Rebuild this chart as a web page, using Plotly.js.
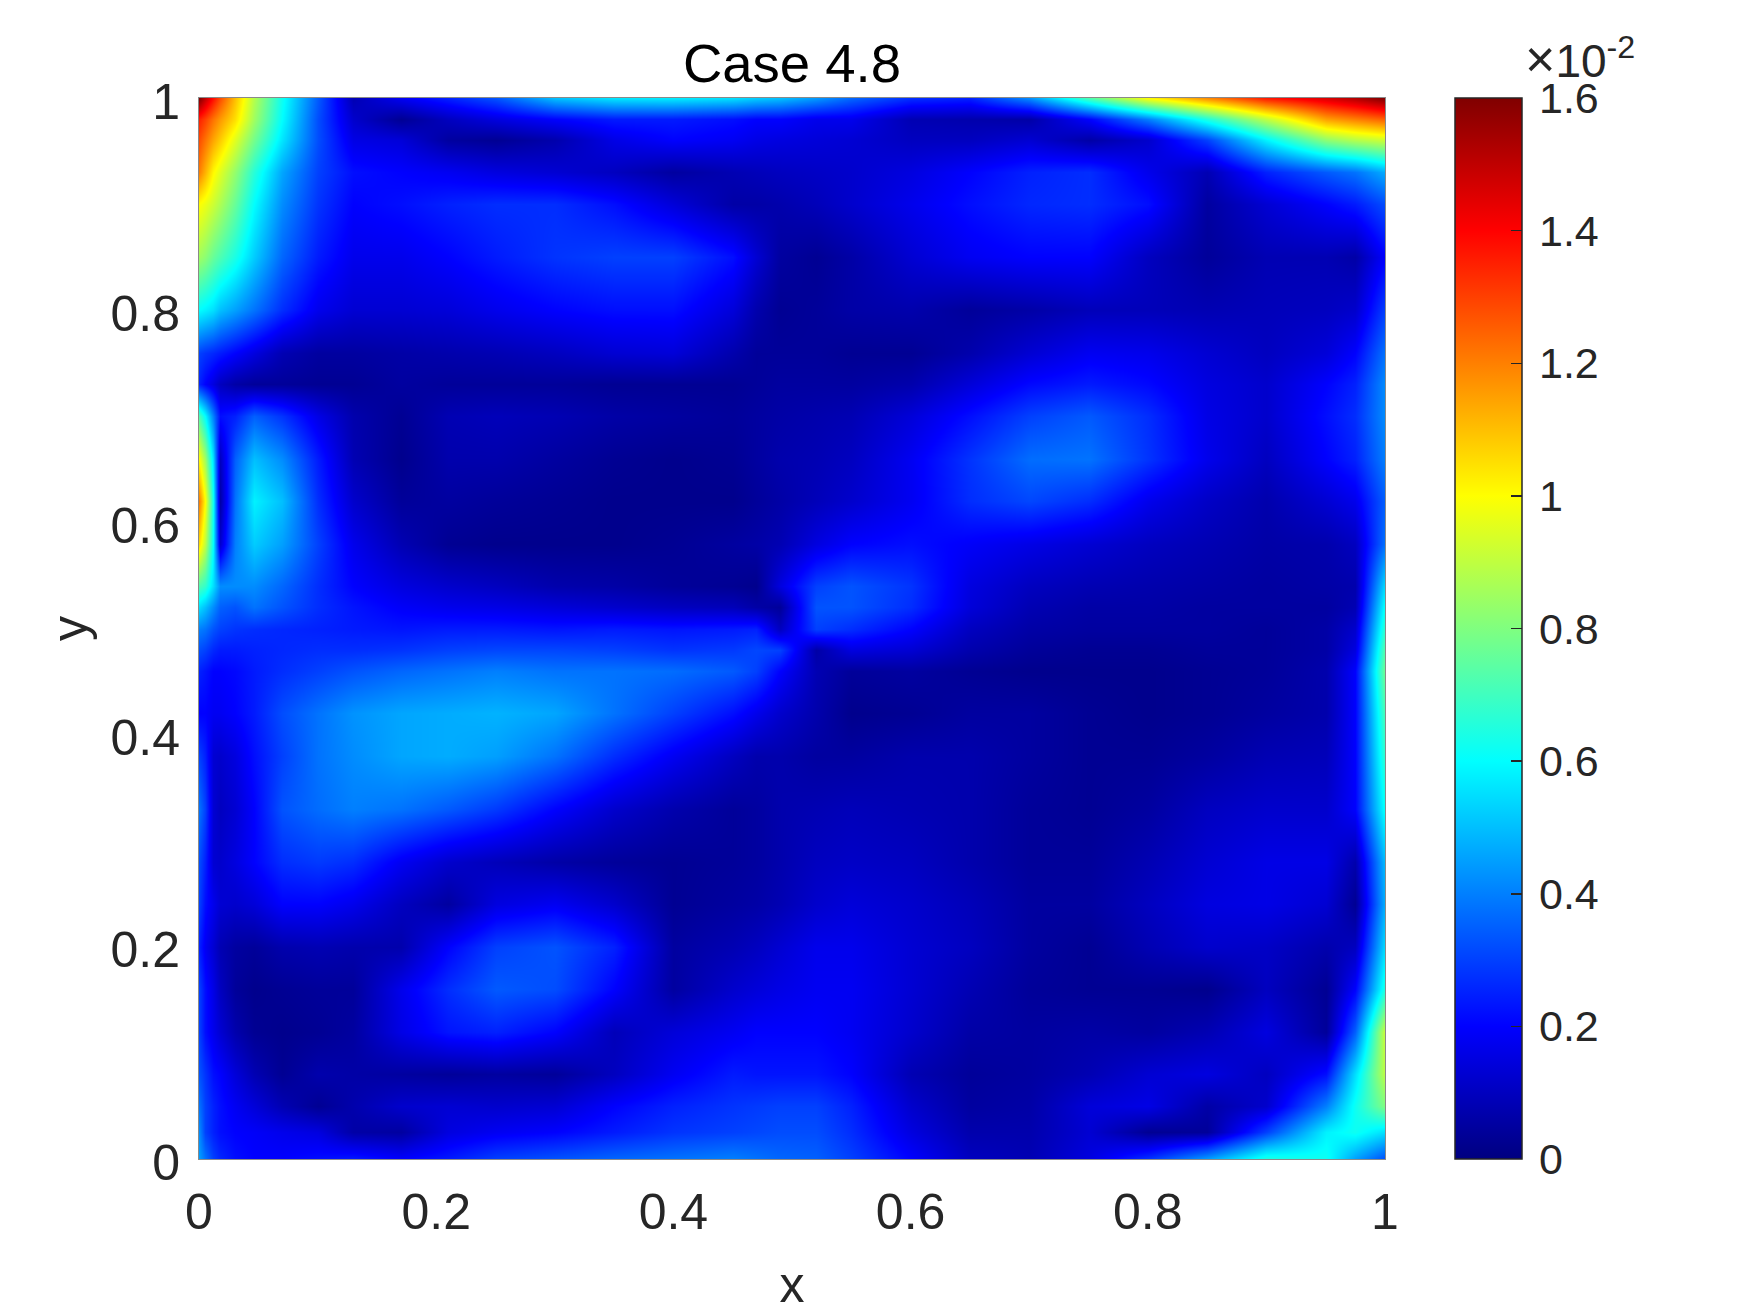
<!DOCTYPE html>
<html><head><meta charset="utf-8">
<script src="https://cdn.plot.ly/plotly-3.0.1.min.js"></script>
<style>html,body{margin:0;padding:0;background:#fff}#c{width:1750px;height:1313px}</style>
</head><body><div id="c"></div>
<script>
const xNodes=[0,.005,.012,.018,.03,.046,.07,.1,.13,.17,.21,.25,.3,.35,.4,.45,.47,.49,.52,.55,.6,.65,.7,.75,.8,.85,.9,.95,.975,1];
const yNodes=[1,.98,.96,.93,.9,.85,.8,.76,.73,.7,.66,.62,.58,.54,.52,.5,.48,.46,.42,.38,.33,.28,.24,.2,.16,.12,.08,.05,.025,0];
// values in units of 1e-2, top row first
const zRows=[
[1.6,1.5,1.38,1.28,1.1,.88,.62,.34,.08,.18,.25,.33,.5,.56,.57,.55,.52,.5,.44,.36,.27,.25,.42,.72,1.0,1.18,1.36,1.46,1.52,1.6],
[1.35,1.3,1.22,1.16,1.05,.85,.6,.32,.12,.03,.1,.15,.2,.24,.24,.22,.2,.2,.17,.17,.08,.07,.06,.2,.4,.65,.9,1.15,1.2,1.25],
[1.28,1.22,1.14,1.08,.95,.78,.56,.32,.16,.14,.05,.03,.07,.16,.2,.18,.16,.15,.14,.13,.1,.1,.13,.06,.12,.3,.58,.82,.88,.92],
[1.2,1.12,1.01,.95,.83,.66,.46,.3,.22,.2,.18,.15,.13,.1,.05,.08,.09,.1,.11,.12,.15,.2,.25,.27,.17,.08,.25,.34,.38,.47],
[1.0,.97,.92,.87,.76,.6,.42,.28,.2,.22,.25,.27,.27,.22,.14,.06,.06,.07,.09,.12,.17,.22,.26,.27,.22,.05,.13,.2,.24,.32],
[.85,.82,.76,.72,.64,.52,.36,.24,.17,.17,.2,.24,.28,.3,.3,.22,.13,.05,.03,.06,.13,.18,.2,.2,.1,.04,.08,.08,.06,.2],
[.6,.58,.55,.5,.45,.38,.27,.17,.13,.13,.14,.17,.2,.22,.22,.14,.07,.03,.04,.06,.07,.04,.06,.09,.09,.08,.09,.1,.12,.3],
[.3,.28,.26,.24,.2,.15,.08,.05,.05,.06,.07,.08,.1,.13,.14,.07,.04,.04,.04,.03,.03,.07,.13,.18,.17,.13,.1,.14,.2,.38],
[.25,.2,.15,.1,.06,.04,.04,.03,.03,.05,.04,.04,.04,.03,.03,.03,.04,.05,.05,.05,.07,.14,.21,.24,.21,.15,.12,.2,.25,.42],
[.72,.6,.4,.22,.25,.35,.28,.16,.07,.03,.08,.09,.08,.06,.05,.04,.05,.06,.07,.08,.14,.22,.3,.34,.27,.16,.12,.22,.27,.42],
[1.0,.85,.55,.1,.35,.5,.42,.24,.08,.02,.07,.07,.05,.03,.02,.03,.05,.07,.08,.1,.18,.28,.37,.38,.28,.17,.1,.2,.25,.4],
[1.2,1.0,.62,.06,.38,.58,.5,.27,.12,.04,.05,.04,.03,.02,.02,.02,.04,.06,.09,.12,.18,.27,.31,.27,.17,.11,.07,.13,.17,.35],
[1.05,.9,.6,.12,.4,.52,.45,.3,.17,.08,.03,.02,.02,.02,.03,.05,.06,.08,.15,.2,.22,.19,.16,.13,.1,.08,.06,.07,.1,.38],
[.72,.68,.55,.42,.42,.42,.36,.27,.2,.15,.12,.1,.07,.06,.04,.03,.02,.15,.3,.33,.28,.15,.1,.08,.07,.06,.05,.06,.07,.55],
[.55,.5,.42,.35,.33,.38,.33,.27,.23,.19,.17,.16,.14,.12,.1,.09,.06,.04,.33,.33,.27,.14,.08,.06,.06,.05,.05,.05,.08,.62],
[.4,.38,.33,.3,.28,.27,.26,.25,.24,.23,.24,.24,.23,.24,.23,.24,.25,.1,.3,.27,.2,.1,.06,.05,.05,.05,.04,.06,.12,.68],
[.32,.3,.26,.24,.24,.25,.26,.27,.27,.28,.3,.31,.31,.3,.28,.29,.31,.3,.06,.15,.13,.07,.04,.03,.03,.04,.04,.06,.15,.74],
[.25,.23,.2,.2,.21,.24,.27,.3,.33,.36,.38,.4,.38,.38,.37,.34,.3,.2,.08,.04,.05,.03,.02,.02,.02,.03,.04,.07,.2,.78],
[.2,.2,.18,.18,.2,.24,.32,.38,.43,.46,.47,.48,.46,.38,.3,.22,.17,.12,.07,.02,.03,.05,.05,.03,.02,.03,.05,.07,.2,.72],
[.3,.25,.13,.12,.15,.22,.3,.38,.42,.46,.47,.45,.38,.27,.18,.1,.07,.07,.05,.05,.07,.07,.05,.03,.03,.05,.08,.09,.2,.68],
[.38,.3,.13,.1,.13,.2,.33,.37,.4,.38,.34,.29,.2,.12,.07,.04,.05,.07,.08,.09,.08,.07,.04,.03,.05,.1,.12,.12,.2,.62],
[.32,.25,.13,.12,.15,.2,.27,.29,.27,.18,.12,.09,.06,.04,.03,.04,.05,.07,.1,.11,.1,.07,.04,.04,.08,.13,.16,.16,.07,.5],
[.3,.22,.17,.13,.12,.14,.2,.2,.17,.1,.05,.15,.18,.12,.03,.05,.06,.08,.12,.14,.12,.09,.05,.05,.1,.15,.16,.13,.03,.48],
[.25,.18,.13,.08,.05,.04,.07,.08,.07,.07,.2,.3,.33,.25,.05,.08,.1,.13,.17,.17,.13,.1,.05,.03,.08,.12,.11,.07,.1,.55],
[.3,.22,.16,.1,.04,.02,.03,.04,.04,.17,.27,.34,.32,.2,.05,.12,.14,.16,.18,.18,.13,.08,.04,.03,.03,.02,.1,.03,.2,.65],
[.3,.22,.17,.13,.07,.03,.02,.03,.05,.16,.23,.25,.2,.09,.14,.18,.2,.2,.2,.18,.12,.06,.05,.06,.05,.08,.15,.04,.35,.92],
[.33,.28,.22,.2,.14,.08,.03,.07,.06,.05,.04,.05,.04,.1,.18,.24,.23,.23,.23,.2,.08,.04,.05,.08,.13,.15,.1,.22,.55,.9],
[.38,.3,.25,.22,.18,.14,.08,.03,.07,.12,.13,.12,.13,.2,.25,.28,.29,.3,.3,.25,.12,.05,.06,.14,.16,.06,.12,.4,.62,.8],
[.42,.3,.25,.22,.2,.19,.17,.15,.06,.05,.15,.18,.2,.24,.28,.3,.31,.32,.32,.27,.15,.07,.07,.13,.03,.04,.3,.58,.62,.55],
[.45,.38,.3,.26,.22,.2,.2,.22,.24,.2,.24,.3,.33,.36,.38,.4,.38,.36,.35,.3,.2,.1,.08,.15,.28,.45,.65,.62,.45,.32]
];
const axisTicks=[0,.2,.4,.6,.8,1];
const axisLabels=['0','0.2','0.4','0.6','0.8','1'];
const barTicks=[0,.2,.4,.6,.8,1,1.2,1.4,1.6];
const barLabels=['0','0.2','0.4','0.6','0.8','1','1.2','1.4','1.6'];
const jet=[[0,'rgb(0,0,128)'],[.125,'rgb(0,0,255)'],[.375,'rgb(0,255,255)'],[.625,'rgb(255,255,0)'],[.875,'rgb(255,0,0)'],[1,'rgb(128,0,0)']];
const F='"Liberation Sans",Arial,sans-serif', INK='#262626';
const axisBase={range:[0,1],tickmode:'array',tickvals:axisTicks,ticktext:axisLabels,ticks:'',showgrid:false,zeroline:false,
  showline:true,mirror:true,linecolor:'#8a8a8a',linewidth:1,tickfont:{family:F,size:50,color:INK},automargin:false};
Plotly.newPlot('c',[{type:'heatmap',x:xNodes,y:yNodes.slice().reverse(),z:zRows.slice().reverse(),zmin:0,zmax:1.6,zsmooth:'best',
  colorscale:jet,hoverinfo:'skip',
  colorbar:{thickness:67,thicknessmode:'pixels',len:1,lenmode:'fraction',x:1.0587,xanchor:'left',xpad:0,ypad:0,y:0,yanchor:'bottom',
    outlinecolor:INK,outlinewidth:1.5,tickmode:'array',tickvals:barTicks,ticktext:barLabels.map(s=>'\u2006'+s),ticks:'inside',ticklen:11,tickwidth:1.5,tickcolor:INK,
    tickfont:{family:F,size:43,color:INK}}}],
 {width:1750,height:1313,paper_bgcolor:'#fff',plot_bgcolor:'#fff',showlegend:false,
  margin:{l:199,r:364.5,t:97.5,b:154,pad:0},
  title:{text:'Case 4.8',font:{family:F,size:54.5,color:'#000'},x:792/1750,xanchor:'center',y:1-63/1313,yanchor:'middle'},
  xaxis:Object.assign({},axisBase,{ticklabelstandoff:9,title:{text:'x',font:{family:F,size:50,color:INK},standoff:31}}),
  yaxis:Object.assign({},axisBase,{ticklabelstandoff:8,ticklabelshift:3,title:{text:'y',font:{family:F,size:50,color:INK},standoff:6}}),
  annotations:[{xref:'paper',yref:'paper',x:(1524-199)/1186.5,y:1+(97.5-58)/1061.5,xanchor:'left',yanchor:'middle',showarrow:false,
    text:'<span style="font-size:52px">×</span>10<sup>-2</sup>',font:{family:F,size:46,color:INK}}]
 },{staticPlot:true,displayModeBar:false});
</script></body></html>
